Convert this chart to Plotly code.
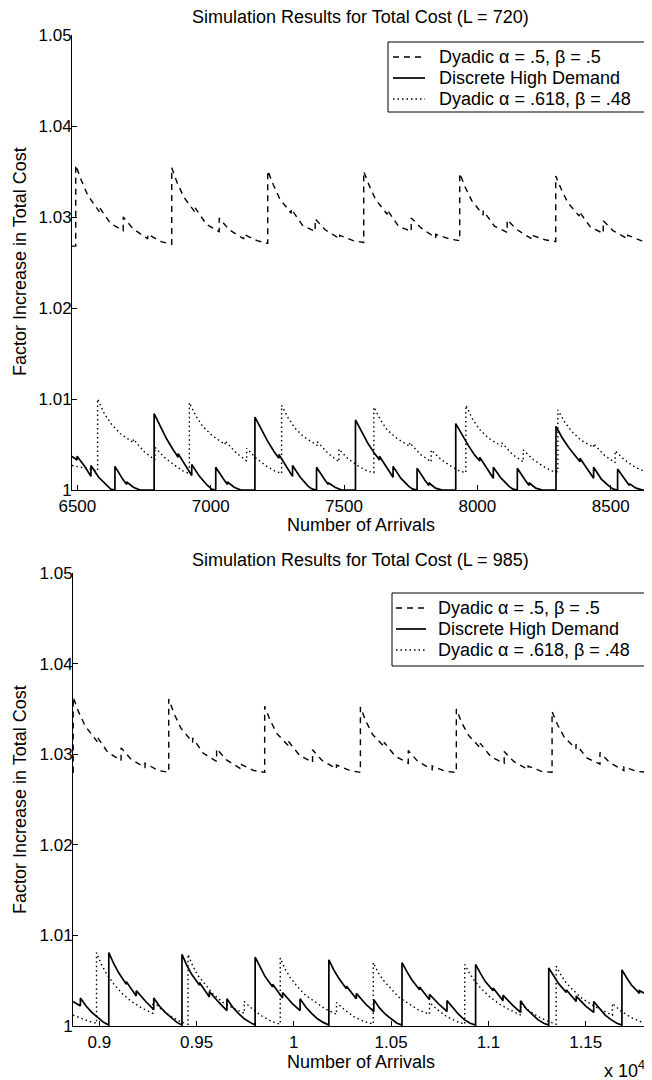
import plotly.graph_objects as go

# ---------------- data: top panel (L = 720) ----------------
top_dyadic_x = [6480, 6494, 6494, 6514, 6539, 6582, 6582, 6624, 6672, 6672, 6709, 6764, 6764, 6814, 6853,
                6854, 6854, 6874, 6899, 6942, 6942, 6984, 7032, 7032, 7069, 7124, 7124, 7174, 7213,
                7214, 7214, 7234, 7259, 7302, 7302, 7344, 7392, 7392, 7429, 7484, 7484, 7534, 7573,
                7574, 7574, 7594, 7619, 7662, 7662, 7704, 7752, 7752, 7789, 7844, 7844, 7894, 7933,
                7934, 7934, 7954, 7979, 8022, 8022, 8064, 8112, 8112, 8149, 8204, 8204, 8254, 8293,
                8294, 8294, 8314, 8339, 8382, 8382, 8424, 8472, 8472, 8509, 8564, 8564, 8614, 8640]
top_dyadic_y = [1.0268, 1.0268, 1.0357, 1.0341, 1.0324, 1.0306, 1.0311, 1.0293, 1.0285, 1.0300, 1.0287, 1.0276, 1.0281, 1.0273, 1.0270,
                1.0270, 1.0354, 1.0338, 1.0322, 1.0305, 1.0310, 1.0292, 1.0284, 1.0299, 1.0286, 1.0276, 1.0281, 1.0274, 1.0271,
                1.0271, 1.0351, 1.0336, 1.0320, 1.0304, 1.0309, 1.0291, 1.0284, 1.0298, 1.0286, 1.0276, 1.0280, 1.0274, 1.0272,
                1.0272, 1.0350, 1.0335, 1.0319, 1.0303, 1.0308, 1.0290, 1.0284, 1.0299, 1.0288, 1.0277, 1.0281, 1.0276, 1.0274,
                1.0274, 1.0348, 1.0333, 1.0318, 1.0302, 1.0307, 1.0290, 1.0283, 1.0297, 1.0286, 1.0276, 1.0280, 1.0275, 1.0273,
                1.0273, 1.0345, 1.0331, 1.0316, 1.0301, 1.0306, 1.0289, 1.0282, 1.0296, 1.0285, 1.0276, 1.0280, 1.0274, 1.0273]

top_discrete_x = [6480, 6499, 6499, 6530, 6551, 6551, 6580, 6610, 6625, 6641, 6641, 6670, 6685, 6685, 6710, 6735, 6788,
                  6788, 6810, 6835, 6860, 6878, 6878, 6908, 6929, 6929, 6958, 6988, 7003, 7019, 7019, 7048, 7063, 7063, 7088, 7113, 7166,
                  7166, 7188, 7213, 7238, 7256, 7256, 7286, 7307, 7307, 7336, 7366, 7381, 7397, 7397, 7426, 7441, 7441, 7466, 7491, 7543,
                  7543, 7565, 7590, 7615, 7633, 7633, 7663, 7684, 7684, 7713, 7743, 7758, 7774, 7774, 7803, 7818, 7818, 7843, 7868, 7919,
                  7919, 7941, 7966, 7991, 8009, 8009, 8039, 8060, 8060, 8089, 8119, 8134, 8150, 8150, 8179, 8194, 8194, 8219, 8244, 8295,
                  8295, 8317, 8342, 8367, 8385, 8385, 8415, 8436, 8436, 8465, 8495, 8510, 8526, 8526, 8555, 8570, 8570, 8595, 8620, 8640]
top_discrete_y = [1.0037, 1.0033, 1.0037, 1.0025, 1.0015, 1.0027, 1.0014, 1.0005, 1.0001, 1.0000, 1.0026, 1.0012, 1.0006, 1.0009, 1.0003, 1.0000, 1.0000,
                  1.0084, 1.0070, 1.0056, 1.0044, 1.0036, 1.0040, 1.0026, 1.0016, 1.0028, 1.0015, 1.0005, 1.0001, 1.0000, 1.0025, 1.0012, 1.0006, 1.0009, 1.0003, 1.0000, 1.0000,
                  1.0080, 1.0067, 1.0054, 1.0042, 1.0035, 1.0039, 1.0025, 1.0015, 1.0027, 1.0014, 1.0004, 1.0001, 1.0000, 1.0025, 1.0012, 1.0006, 1.0008, 1.0003, 1.0000, 1.0000,
                  1.0077, 1.0064, 1.0051, 1.0040, 1.0033, 1.0037, 1.0024, 1.0014, 1.0026, 1.0013, 1.0004, 1.0001, 1.0000, 1.0024, 1.0011, 1.0005, 1.0008, 1.0002, 1.0000, 1.0000,
                  1.0073, 1.0061, 1.0049, 1.0038, 1.0032, 1.0036, 1.0023, 1.0013, 1.0025, 1.0013, 1.0004, 1.0001, 1.0000, 1.0024, 1.0011, 1.0005, 1.0008, 1.0002, 1.0000, 1.0000,
                  1.0070, 1.0058, 1.0047, 1.0037, 1.0031, 1.0035, 1.0022, 1.0013, 1.0025, 1.0012, 1.0004, 1.0001, 1.0000, 1.0023, 1.0011, 1.0005, 1.0007, 1.0002, 1.0000, 1.0000]

top_golden_x = [6480, 6576,
                6576, 6601, 6626, 6661, 6710, 6710, 6751, 6791, 6791, 6826, 6866, 6896, 6920,
                6920, 6945, 6970, 7005, 7054, 7054, 7095, 7135, 7135, 7170, 7210, 7240, 7266,
                7266, 7291, 7316, 7351, 7400, 7400, 7441, 7481, 7481, 7516, 7556, 7586, 7612,
                7612, 7637, 7662, 7697, 7746, 7746, 7787, 7827, 7827, 7862, 7902, 7932, 7957,
                7957, 7982, 8007, 8042, 8091, 8091, 8132, 8172, 8172, 8207, 8247, 8277, 8302,
                8302, 8327, 8352, 8387, 8436, 8436, 8477, 8517, 8517, 8552, 8592, 8622, 8640]
top_golden_y = [1.0027, 1.0021,
                1.0100, 1.0084, 1.0073, 1.0062, 1.0052, 1.0056, 1.0042, 1.0033, 1.0047, 1.0036, 1.0027, 1.0021, 1.0018,
                1.0096, 1.0081, 1.0070, 1.0060, 1.0050, 1.0054, 1.0041, 1.0032, 1.0046, 1.0035, 1.0026, 1.0021, 1.0018,
                1.0093, 1.0079, 1.0068, 1.0058, 1.0049, 1.0053, 1.0040, 1.0031, 1.0045, 1.0034, 1.0026, 1.0021, 1.0019,
                1.0091, 1.0077, 1.0066, 1.0057, 1.0048, 1.0052, 1.0039, 1.0031, 1.0044, 1.0034, 1.0026, 1.0021, 1.0019,
                1.0093, 1.0078, 1.0067, 1.0057, 1.0048, 1.0052, 1.0039, 1.0031, 1.0044, 1.0034, 1.0026, 1.0021, 1.0020,
                1.0088, 1.0075, 1.0065, 1.0055, 1.0047, 1.0051, 1.0038, 1.0030, 1.0043, 1.0033, 1.0025, 1.0021, 1.0020]

# ---------------- data: bottom panel (L = 985) ----------------
bot_dyadic_x = [8865, 8866, 8866, 8893, 8928, 8989, 8989, 9044, 9112, 9112, 9161, 9235, 9235, 9303, 9356,
                9357, 9357, 9384, 9419, 9480, 9480, 9535, 9603, 9603, 9652, 9726, 9726, 9794, 9849,
                9850, 9850, 9877, 9912, 9973, 9973, 10028, 10096, 10096, 10145, 10219, 10219, 10287, 10341,
                10342, 10342, 10369, 10404, 10465, 10465, 10520, 10588, 10588, 10637, 10711, 10711, 10779, 10834,
                10835, 10835, 10862, 10897, 10958, 10958, 11013, 11081, 11081, 11130, 11204, 11204, 11272, 11326,
                11327, 11327, 11354, 11389, 11450, 11450, 11505, 11573, 11573, 11622, 11696, 11696, 11764, 11820]
bot_dyadic_y = [1.0280, 1.0280, 1.0363, 1.0347, 1.0331, 1.0314, 1.0319, 1.0302, 1.0293, 1.0307, 1.0295, 1.0285, 1.0290, 1.0282, 1.0280,
                1.0280, 1.0361, 1.0345, 1.0329, 1.0313, 1.0318, 1.0301, 1.0292, 1.0306, 1.0294, 1.0284, 1.0289, 1.0282, 1.0280,
                1.0280, 1.0353, 1.0338, 1.0323, 1.0309, 1.0314, 1.0299, 1.0291, 1.0305, 1.0293, 1.0284, 1.0288, 1.0282, 1.0280,
                1.0280, 1.0352, 1.0337, 1.0322, 1.0308, 1.0313, 1.0298, 1.0290, 1.0304, 1.0292, 1.0283, 1.0287, 1.0281, 1.0280,
                1.0280, 1.0350, 1.0335, 1.0321, 1.0307, 1.0312, 1.0297, 1.0290, 1.0303, 1.0292, 1.0283, 1.0287, 1.0281, 1.0280,
                1.0280, 1.0347, 1.0333, 1.0319, 1.0306, 1.0311, 1.0296, 1.0289, 1.0302, 1.0291, 1.0282, 1.0286, 1.0281, 1.0280]

bot_discrete_x = [8865, 8903, 8903, 8932, 8962, 8992, 9022, 9049,
                  9049, 9074, 9099, 9139, 9139, 9190, 9190, 9239, 9280, 9280, 9309, 9339, 9369, 9399, 9425,
                  9425, 9450, 9475, 9515, 9515, 9566, 9566, 9615, 9656, 9656, 9685, 9715, 9745, 9775, 9801,
                  9801, 9826, 9851, 9891, 9891, 9942, 9942, 9991, 10032, 10032, 10061, 10091, 10121, 10151, 10180,
                  10180, 10205, 10230, 10270, 10270, 10321, 10321, 10370, 10411, 10411, 10440, 10470, 10500, 10530, 10556,
                  10556, 10581, 10606, 10646, 10646, 10697, 10697, 10746, 10787, 10787, 10816, 10846, 10876, 10906, 10934,
                  10934, 10959, 10984, 11024, 11024, 11075, 11075, 11124, 11165, 11165, 11194, 11224, 11254, 11284, 11310,
                  11310, 11335, 11360, 11400, 11400, 11451, 11451, 11500, 11541, 11541, 11570, 11600, 11630, 11660, 11686,
                  11686, 11711, 11736, 11776, 11776, 11820]
bot_discrete_y = [1.0027, 1.0022, 1.0031, 1.0022, 1.0015, 1.0009, 1.0004, 1.0001,
                  1.0081, 1.0069, 1.0059, 1.0046, 1.0049, 1.0033, 1.0039, 1.0027, 1.0018, 1.0031, 1.0022, 1.0015, 1.0009, 1.0004, 1.0001,
                  1.0079, 1.0067, 1.0057, 1.0045, 1.0048, 1.0032, 1.0038, 1.0026, 1.0017, 1.0030, 1.0021, 1.0014, 1.0008, 1.0004, 1.0001,
                  1.0076, 1.0065, 1.0055, 1.0043, 1.0046, 1.0031, 1.0037, 1.0025, 1.0017, 1.0030, 1.0021, 1.0014, 1.0008, 1.0004, 1.0001,
                  1.0073, 1.0062, 1.0053, 1.0041, 1.0044, 1.0030, 1.0036, 1.0024, 1.0016, 1.0029, 1.0020, 1.0013, 1.0008, 1.0003, 1.0001,
                  1.0070, 1.0060, 1.0051, 1.0040, 1.0043, 1.0029, 1.0035, 1.0024, 1.0016, 1.0028, 1.0020, 1.0013, 1.0007, 1.0003, 1.0001,
                  1.0068, 1.0058, 1.0049, 1.0039, 1.0042, 1.0028, 1.0034, 1.0023, 1.0015, 1.0028, 1.0019, 1.0013, 1.0007, 1.0003, 1.0001,
                  1.0064, 1.0055, 1.0047, 1.0037, 1.0040, 1.0027, 1.0033, 1.0022, 1.0015, 1.0027, 1.0019, 1.0012, 1.0007, 1.0003, 1.0001,
                  1.0062, 1.0053, 1.0045, 1.0036, 1.0039, 1.0034]

bot_golden_x = [8865, 8910, 8950, 8986,
                8986, 9011, 9036, 9076, 9116, 9166, 9216, 9275, 9275, 9316, 9366, 9416, 9456,
                9456, 9481, 9506, 9546, 9586, 9636, 9686, 9745, 9745, 9786, 9836, 9886, 9930,
                9930, 9955, 9980, 10020, 10060, 10110, 10160, 10219, 10219, 10260, 10310, 10360, 10408,
                10408, 10433, 10458, 10498, 10538, 10588, 10638, 10697, 10697, 10738, 10788, 10838, 10878,
                10878, 10903, 10928, 10968, 11008, 11058, 11108, 11167, 11167, 11208, 11258, 11308, 11348,
                11348, 11373, 11398, 11438, 11478, 11528, 11578, 11637, 11637, 11678, 11728, 11778, 11820]
bot_golden_y = [1.0012, 1.0008, 1.0005, 1.0003,
                1.0081, 1.0068, 1.0058, 1.0046, 1.0036, 1.0027, 1.0020, 1.0014, 1.0027, 1.0019, 1.0011, 1.0005, 1.0002,
                1.0079, 1.0066, 1.0056, 1.0045, 1.0035, 1.0026, 1.0020, 1.0014, 1.0027, 1.0019, 1.0011, 1.0005, 1.0002,
                1.0075, 1.0063, 1.0054, 1.0043, 1.0034, 1.0026, 1.0019, 1.0013, 1.0026, 1.0018, 1.0010, 1.0005, 1.0002,
                1.0070, 1.0059, 1.0051, 1.0041, 1.0032, 1.0025, 1.0018, 1.0013, 1.0026, 1.0018, 1.0010, 1.0005, 1.0002,
                1.0068, 1.0058, 1.0050, 1.0040, 1.0032, 1.0024, 1.0018, 1.0012, 1.0025, 1.0017, 1.0010, 1.0005, 1.0002,
                1.0066, 1.0056, 1.0048, 1.0039, 1.0031, 1.0024, 1.0018, 1.0012, 1.0025, 1.0017, 1.0010, 1.0005, 1.0003]

series_names = ["Dyadic α = .5, β = .5", "Discrete High Demand", "Dyadic α = .618, β = .48"]
titles = ["Simulation Results for Total Cost (L = 720)", "Simulation Results for Total Cost (L = 985)"]
y_ticks = [1.0, 1.01, 1.02, 1.03, 1.04, 1.05]
y_ticktext = ["1", "1.01", "1.02", "1.03", "1.04", "1.05"]
top_xticks = [6500, 7000, 7500, 8000, 8500]
top_xticktext = ["6500", "7000", "7500", "8000", "8500"]
bot_xticks = [9000, 9500, 10000, 10500, 11000, 11500]
bot_xticktext = ["0.9", "0.95", "1", "1.05", "1.1", "1.15"]
top_xrange = [6480, 8640]
bot_xrange = [8865, 11820]
y_range = [1.0, 1.05]

for a, b in [(top_dyadic_x, top_dyadic_y), (top_discrete_x, top_discrete_y), (top_golden_x, top_golden_y),
             (bot_dyadic_x, bot_dyadic_y), (bot_discrete_x, bot_discrete_y), (bot_golden_x, bot_golden_y)]:
    assert len(a) == len(b), (len(a), len(b))

# page body adds an 8px margin; figure sized to fit the 652x1080 window
OFF = 8
W, H = 652 - OFF, 1080 - OFF
FONT = "Liberation Sans, Arial, Helvetica, sans-serif"
FS = 18
TFS = 17


def py(px):
    return 1 - (px - OFF) / H


def pxx(px):
    return (px - OFF) / W


fig = go.Figure()
styles = [dict(dash="6px,5px", width=1.4), dict(dash="solid", width=1.7), dict(dash="1.5px,3px", width=1.4)]
panels = [
    ("x", "y", [(top_dyadic_x, top_dyadic_y), (top_discrete_x, top_discrete_y), (top_golden_x, top_golden_y)]),
    ("x2", "y2", [(bot_dyadic_x, bot_dyadic_y), (bot_discrete_x, bot_discrete_y), (bot_golden_x, bot_golden_y)]),
]
for xa, ya, data in panels:
    for (xs, ys), name, st in zip(data, series_names, styles):
        fig.add_trace(go.Scatter(x=xs, y=ys, mode="lines", name=name, xaxis=xa, yaxis=ya, showlegend=False,
                                 line=dict(color="black", width=st["width"], dash=st["dash"])))

axis_common = dict(showgrid=False, zeroline=False, showline=True, linecolor="black", linewidth=1,
                   ticks="inside", ticklen=5, tickcolor="black", mirror=False, automargin=False,
                   tickfont=dict(family=FONT, size=TFS, color="black"))
xa_common = dict(axis_common, ticklabelstandoff=1)
ya_common = dict(axis_common, ticklabelstandoff=-4)

fig.update_layout(
    width=W, height=H, margin=dict(l=0, r=0, t=0, b=0, pad=0, autoexpand=False),
    paper_bgcolor="white", plot_bgcolor="white",
    font=dict(family=FONT, size=FS, color="black"),
    xaxis=dict(domain=[pxx(72), pxx(648)], range=top_xrange, tickvals=top_xticks, ticktext=top_xticktext,
               anchor="y", **xa_common),
    yaxis=dict(domain=[py(490), py(35)], range=y_range, tickvals=y_ticks, ticktext=y_ticktext,
               anchor="x", **ya_common),
    xaxis2=dict(domain=[pxx(73), pxx(648)], range=bot_xrange, tickvals=bot_xticks, ticktext=bot_xticktext,
                anchor="y2", **xa_common),
    yaxis2=dict(domain=[py(1026), py(573)], range=y_range, tickvals=y_ticks, ticktext=y_ticktext,
                anchor="x2", **ya_common),
    showlegend=False,
)

shapes = []
ann = []
# legends (box, line samples, labels) for both panels
legend_specs = [
    dict(box=(388, 646, 42, 112), rows=(57, 78, 99), sample=(393, 425), text_x=437),
    dict(box=(392, 648, 593, 666), rows=(608, 629, 650), sample=(396, 426), text_x=436),
]
for spec in legend_specs:
    x0, x1, y0, y1 = spec["box"]
    shapes.append(dict(type="rect", xref="paper", yref="paper", x0=pxx(x0), x1=pxx(x1), y0=py(y1), y1=py(y0),
                       line=dict(color="black", width=1), fillcolor="white", layer="above"))
    for ry, name, st in zip(spec["rows"], series_names, styles):
        shapes.append(dict(type="line", xref="paper", yref="paper", x0=pxx(spec["sample"][0]), x1=pxx(spec["sample"][1]),
                           y0=py(ry), y1=py(ry), layer="above",
                           line=dict(color="black", width=st["width"], dash=st["dash"])))
        ann.append(dict(text=name, x=pxx(spec["text_x"]), y=py(ry), xref="paper", yref="paper", showarrow=False,
                        xanchor="left", yanchor="middle", font=dict(size=FS)))

ann.append(dict(text=titles[0], x=pxx(360), y=py(17), xref="paper", yref="paper", showarrow=False,
                xanchor="center", yanchor="middle", font=dict(size=FS)))
ann.append(dict(text=titles[1], x=pxx(360), y=py(560), xref="paper", yref="paper", showarrow=False,
                xanchor="center", yanchor="middle", font=dict(size=FS)))
for yc in (525, 1062):
    ann.append(dict(text="Number of Arrivals", x=pxx(361), y=py(yc), xref="paper", yref="paper", showarrow=False,
                    xanchor="center", yanchor="middle", font=dict(size=FS)))
for yc in (262, 800):
    ann.append(dict(text="Factor Increase in Total Cost", x=pxx(20), y=py(yc), xref="paper", yref="paper",
                    showarrow=False, textangle=-90, xanchor="center", yanchor="middle", font=dict(size=FS)))
ann.append(dict(text="x 10<sup>4</sup>", x=pxx(624), y=py(1069), xref="paper", yref="paper", showarrow=False,
                xanchor="center", yanchor="middle", font=dict(size=FS)))
fig.update_layout(shapes=shapes, annotations=ann)

fig.write_html("out.html")
